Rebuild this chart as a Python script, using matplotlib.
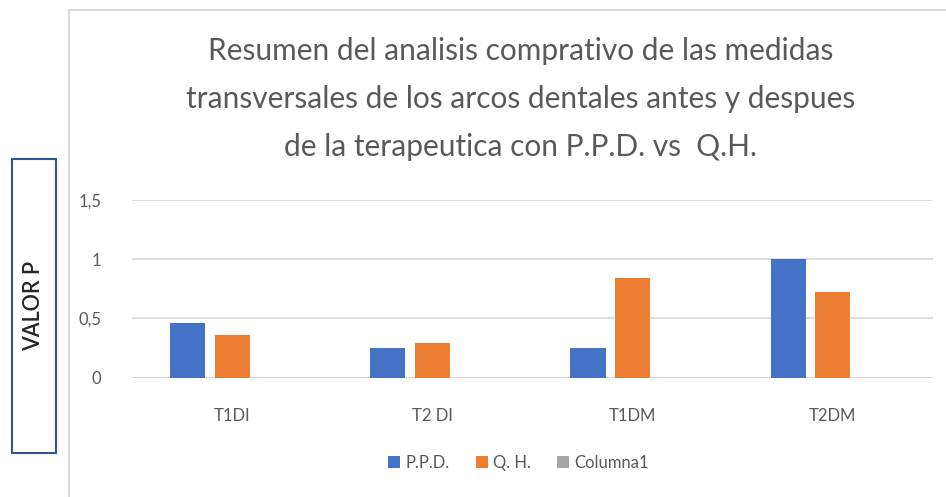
import matplotlib.pyplot as plt
import numpy as np
from matplotlib.patches import Rectangle
from matplotlib.lines import Line2D

plt.rcParams['font.family'] = ['Lato', 'DejaVu Sans']

categorias = ['T1DI', 'T2 DI', 'T1DM', 'T2DM']
ppd = [0.46, 0.25, 0.25, 1.0]
qh = [0.36, 0.29, 0.84, 0.72]
columna1 = [0, 0, 0, 0]
series = ['P.P.D.', 'Q. H.', 'Columna1']
colores = ['#4472C4', '#ED7D31', '#A5A5A5']
gris_texto = '#595959'

fig = plt.figure(figsize=(9.46, 4.97), dpi=100)
ax = fig.add_axes([0.1395, 0.240, 0.8465, 0.358])

x = np.arange(len(categorias))
ancho = 0.175
paso = 0.222
for i, vals in enumerate([ppd, qh, columna1]):
    ax.bar(x + (i - 1) * paso, vals, ancho, color=colores[i], label=series[i], zorder=3)

ax.set_xlim(-0.5, len(categorias) - 0.5)
ax.set_ylim(0, 1.5)
ax.set_yticks([0, 0.5, 1, 1.5])
ax.set_yticklabels(['0', '0,5', '1', '1,5'])
ax.set_xticks(x)
ax.set_xticklabels(categorias)
ax.tick_params(axis='both', length=0, labelsize=12, colors=gris_texto)
ax.tick_params(axis='y', pad=22)
ax.tick_params(axis='x', pad=22)
ax.yaxis.grid(True, color='#D9D9D9', linewidth=1.3, zorder=0)
for s in ax.spines.values():
    s.set_visible(False)
ax.axhline(0, color='#D9D9D9', linewidth=1.3, zorder=1)

# titulo
fig.text(0.55, 1 - 99 / 497, 'Resumen del analisis comprativo de las medidas\n'
         'transversales de los arcos dentales antes y despues\n'
         'de la terapeutica con P.P.D. vs  Q.H.',
         ha='center', va='center', fontsize=21.5, color=gris_texto, linespacing=1.85)

# marco del grafico
fig.add_artist(Line2D([69 / 946, 69 / 946], [0, 1 - 10 / 497], transform=fig.transFigure,
                      color='#D9D9D9', linewidth=1.5))
fig.add_artist(Line2D([69 / 946, 1], [1 - 10 / 497, 1 - 10 / 497], transform=fig.transFigure,
                      color='#D9D9D9', linewidth=1.5))

# caja del eje y
fig.add_artist(Rectangle((12 / 946, 1 - 453 / 497), 44 / 946, 294 / 497,
                         transform=fig.transFigure, fill=False, edgecolor='#2F5597', linewidth=1.5))
fig.text(34 / 946, 1 - 306 / 497, 'VALOR P', rotation=90, ha='center', va='center',
         fontsize=15.5, color='#262626', fontweight='semibold')

fig.legend(loc='center', bbox_to_anchor=(0.548, 1 - 463 / 497), ncol=3, frameon=False,
           fontsize=12, labelcolor=gris_texto, handlelength=0.7, handleheight=0.7,
           handletextpad=0.3, columnspacing=1.6)

fig.savefig('out.png', dpi=100)
